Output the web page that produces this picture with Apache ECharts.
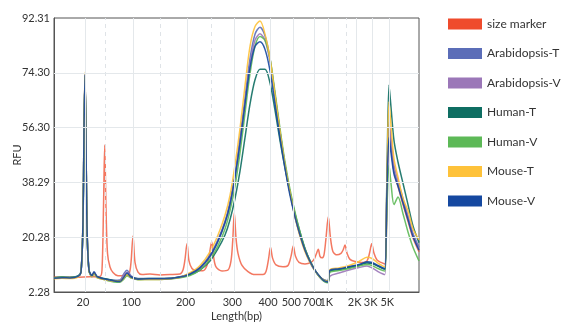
<!DOCTYPE html>
<html>
<head>
<meta charset="utf-8">
<script src="https://cdn.jsdelivr.net/npm/echarts@6/dist/echarts.min.js"></script>
<style>
  html, body { margin: 0; padding: 0; background: #ffffff; }
  #chart { width: 572px; height: 331px; }
</style>
</head>
<body>
<div id="chart"></div>
<script>
// Electropherogram: RFU against scan position, x axis labelled by ladder size (bp).

// Ladder sizes and the scan positions where they run
const bpLabels = ['20', '100', '200', '300', '400', '500', '700', '1K', '2K', '3K', '5K'];
const bpPos = [31, 79.3, 133.5, 180.3, 216, 239.3, 260.3, 274.3, 302.7, 318.7, 335.3];
// Unlabelled ladder fragments (dashed guides)
const bpMinorPos = [51.7, 106, 157.7, 292];

// RFU tick values
const rfuTicks = [2.28, 20.28, 38.29, 56.30, 74.30, 92.31];

const seriesNames = ['size marker', 'Arabidopsis-T', 'Arabidopsis-V', 'Human-T', 'Human-V', 'Mouse-T', 'Mouse-V'];
const seriesColors = ['#EF4B2C', '#5B6DB8', '#9B77B8', '#0E6E62', '#5DB957', '#FEC23A', '#1548A0'];

// Size marker trace
const markerPos = [0, 16, 36, 46, 48, 49.5, 50.7, 52, 53.5, 56, 59, 64, 71, 75, 77, 79, 81, 84, 88, 96,
  106, 116, 126, 129, 131, 133, 135, 138, 142, 149, 153, 155.5, 157.7, 159.5, 162, 168, 174, 177, 178.7, 180.3,
  182, 184, 188, 194, 201, 209, 212, 214.5, 216.5, 218.5, 222, 229, 234, 237, 239.3, 241.5, 245, 251, 257, 260,
  262, 264.3, 266, 268, 270, 272, 274.3, 276.5, 279, 283, 287, 289, 291, 293, 296, 301, 308, 313, 315.5, 317.7,
  320, 323, 327, 331, 333, 335, 337, 340, 344, 349, 354, 359, 365];
const markerRfu = [7.2, 7.1, 7.3, 7.4, 9.5, 30, 50.6, 30, 15, 10.5, 8.7, 7.6, 7.8, 8.2, 12, 20.7, 12, 8.8, 8.0, 8.2,
  7.9, 8.0, 8.2, 9.5, 13, 18.1, 12.5, 10, 9.3, 9.3, 11, 15, 18.8, 14, 10.5, 9.2, 9.5, 12.5, 19, 28.3,
  20, 15, 11, 9, 8, 8, 9, 13, 17, 13.5, 11.2, 10.6, 11, 14, 17.4, 14, 12, 11.5, 12, 13,
  14.5, 16.3, 14, 13.5, 14.5, 20, 27, 20, 15.5, 14.5, 15, 16, 17.7, 15, 13, 12.3, 12, 12.5, 15, 18.1,
  15, 12.8, 12, 11.5, 35, 57, 51, 42, 37, 31, 25.5, 20, 15.5];

// Sample traces share one scan-position grid
const scanPos = [0, 8, 16, 24, 27, 29, 30, 31, 32, 33, 35, 38, 40, 43, 47, 54, 60, 66, 70, 73,
  77, 84, 95, 110, 125, 136, 146, 156, 164, 171, 176, 181, 186, 191, 196, 201, 206, 211, 216, 221,
  226, 231, 236, 241, 246, 251, 256, 261, 266, 270, 274, 276, 285, 295, 305, 313, 318, 324, 329, 331,
  333, 335, 337, 340, 344, 349, 354, 359, 365];

const arabidopsisT = [6.9, 7.1, 7.0, 7.5, 8.9, 26, 56, 73.5, 52, 24, 9.5, 7.7, 8.9, 7.4, 6.9, 6.4, 6.1, 6.2, 8.4, 9.4,
  7.6, 6.7, 6.7, 6.7, 7.2, 8.4, 10.5, 14.5, 19.5, 25.5, 32, 41, 53, 66, 79, 87, 89.3, 86.5, 79, 67,
  55, 44, 35, 27, 21, 16, 12, 9.2, 7.2, 6.3, 6.0, 9.2, 9.8, 10.5, 11.2, 12.0, 11.8, 10.8, 10.0, 9.8,
  38, 56, 50, 42, 38, 32.5, 27, 21.5, 17];

const arabidopsisV = [6.8, 7.0, 6.9, 7.4, 8.7, 25, 55, 73.2, 51, 23, 9.3, 7.5, 8.6, 7.2, 6.8, 6.3, 6.0, 6.1, 8.0, 8.8,
  7.4, 6.6, 6.6, 6.6, 7.1, 8.2, 10, 14, 19, 25, 31, 40, 51.5, 64.5, 77, 85, 87.1, 85, 78, 67,
  55, 44, 35, 27.5, 21.5, 16.5, 12.5, 9.5, 7.0, 5.8, 5.5, 7.5, 8.5, 9.5, 10.3, 10.8, 10.2, 9.0, 8.2, 8.0,
  38, 58.2, 53, 44, 39, 33, 27, 21, 16.5];

const humanT = [7.0, 7.2, 7.1, 7.6, 9.0, 25, 54, 72.8, 50, 23, 9.4, 7.6, 8.4, 7.3, 6.9, 6.5, 6.1, 5.9, 7.0, 7.8,
  7.2, 6.6, 6.7, 6.7, 7.1, 7.9, 9.5, 12.5, 16.5, 21, 26, 33, 42, 53, 64, 72, 75.5, 75.5, 71, 62,
  52, 43, 35, 28, 22, 16.5, 12.5, 9.5, 7.3, 6.2, 5.9, 9.2, 9.6, 10.3, 11.0, 11.8, 11.6, 10.8, 10.0, 9.8,
  42, 70.3, 63, 52, 45, 38, 31, 24, 18.5];

const humanV = [7.0, 7.1, 7.0, 7.4, 8.8, 25, 55, 73.0, 51, 23, 9.2, 7.3, 8.2, 7.0, 6.6, 6.0, 5.6, 5.5, 6.6, 7.6,
  6.9, 6.3, 6.4, 6.5, 6.9, 7.7, 9.5, 13, 17.5, 23, 29, 37, 48, 61, 74, 83, 86.2, 85, 79, 68,
  56, 45, 36, 28.5, 22, 16.5, 12.5, 9.3, 7.0, 5.8, 5.3, 8.8, 9.3, 10.0, 10.8, 11.3, 11.0, 10.0, 9.3, 9.2,
  30, 44, 38, 31, 33.5, 28, 22, 17, 12.5];

const mouseT = [6.6, 6.8, 6.7, 7.2, 8.9, 27, 57, 74.5, 53, 24, 9.4, 7.4, 8.5, 7.1, 6.6, 6.1, 5.8, 5.8, 7.0, 8.0,
  7.0, 6.4, 6.4, 6.5, 7.0, 8.6, 11, 15.5, 21, 27.5, 34, 44, 56, 70, 83, 89.5, 91.3, 87, 79, 67,
  55, 44, 35, 27, 20.5, 15.5, 12, 9.3, 7.2, 6.2, 5.8, 9.6, 10.2, 11.0, 12.3, 13.7, 13.3, 11.8, 10.8, 10.5,
  40, 64.8, 57, 46, 40, 33, 29, 23, 19.5];

const mouseV = [6.8, 7.0, 6.9, 7.4, 8.8, 26, 56, 73.8, 52, 24, 9.5, 7.6, 8.8, 7.3, 6.8, 6.3, 5.9, 5.7, 7.2, 8.5,
  7.2, 6.5, 6.6, 6.6, 7.1, 8.2, 10.2, 14, 19, 25, 31, 40, 51, 64, 76, 83, 84.5, 82, 75, 64,
  53, 43, 34, 27, 21, 16, 12.3, 9.4, 7.3, 6.0, 5.6, 9.4, 9.9, 10.6, 11.3, 12.2, 12.0, 11.0, 10.2, 10.0,
  36, 53, 48, 41, 37, 31.5, 26, 20.5, 16];

const sampleValues = [arabidopsisT, arabidopsisV, humanT, humanV, mouseT, mouseV];

const FONT = 'Lato';
const gridColor = '#e4e8eb';

function pairs(xs, ys) {
  return xs.map((x, i) => [x, ys[i]]);
}

function trace(name, color, data, opacity) {
  return {
    type: 'line',
    name: name,
    data: data,
    symbol: 'none',
    showSymbol: false,
    smooth: 0.3,
    animation: false,
    silent: true,
    itemStyle: { color: color },
    lineStyle: { color: color, width: 1.5, opacity: opacity }
  };
}

// Guide lines drawn beneath the traces
const guideLines = [];
bpPos.forEach(v => guideLines.push({ xAxis: v, lineStyle: { type: 'solid', color: gridColor } }));
bpMinorPos.forEach(v => guideLines.push({ xAxis: v, lineStyle: { type: [4, 4], color: '#dfe3e7' } }));
rfuTicks.slice(1, -1).forEach(v => guideLines.push({ yAxis: v, lineStyle: { type: 'solid', color: gridColor } }));

const series = [{
  type: 'line',
  name: '__guides',
  data: [[0, rfuTicks[0]]],
  symbol: 'none',
  silent: true,
  animation: false,
  lineStyle: { opacity: 0 },
  z: 1,
  markLine: {
    silent: true,
    symbol: ['none', 'none'],
    label: { show: false },
    animation: false,
    lineStyle: { width: 1 },
    data: guideLines
  }
}];

series.push(Object.assign(trace(seriesNames[0], seriesColors[0], pairs(markerPos, markerRfu), 0.75), { z: 2 }));
sampleValues.forEach((vals, i) => {
  series.push(Object.assign(trace(seriesNames[i + 1], seriesColors[i + 1], pairs(scanPos, vals), 0.9), { z: 3 }));
});

const chart = echarts.init(document.getElementById('chart'), null, { renderer: 'canvas' });
chart.setOption({
  animation: false,
  backgroundColor: '#ffffff',
  textStyle: { fontFamily: FONT },
  grid: {
    left: 54, right: 153, top: 18, bottom: 39,
    show: true, borderColor: '#555', borderWidth: 1,
    containLabel: false,
    outerBoundsMode: 'none'
  },
  legend: {
    orient: 'vertical',
    left: 448,
    top: 18,
    padding: 0,
    itemWidth: 34,
    itemHeight: 11,
    itemGap: 17.5,
    icon: 'rect',
    data: seriesNames,
    textStyle: { fontFamily: FONT, fontSize: 12, color: '#333' }
  },
  xAxis: {
    type: 'value',
    min: 0,
    max: 365,
    name: 'Length(bp)',
    nameLocation: 'middle',
    nameGap: 19,
    nameMoveOverlap: false,
    nameTextStyle: { fontFamily: FONT, fontSize: 11, color: '#333', verticalAlign: 'top' },
    axisLine: { show: true, lineStyle: { color: '#555' } },
    axisTick: { show: false },
    splitLine: { show: false },
    axisLabel: {
      customValues: bpPos,
      fontFamily: FONT,
      fontSize: 11,
      color: '#333',
      margin: 5,
      padding: [0, 4, 0, 0],
      formatter: v => {
        const i = bpPos.findIndex(p => Math.abs(p - v) < 0.01);
        return i >= 0 ? bpLabels[i] : '';
      }
    }
  },
  yAxis: {
    type: 'value',
    min: rfuTicks[0],
    max: rfuTicks[rfuTicks.length - 1],
    name: 'RFU',
    nameLocation: 'middle',
    nameGap: 31,
    nameMoveOverlap: false,
    nameTextStyle: { fontFamily: FONT, fontSize: 11, color: '#333' },
    axisLine: { show: true, lineStyle: { color: '#555' } },
    axisTick: { show: false },
    splitLine: { show: false },
    axisLabel: {
      customValues: rfuTicks,
      fontFamily: FONT,
      fontSize: 11,
      color: '#333',
      margin: 4,
      formatter: v => v.toFixed(2)
    }
  },
  series: series
});
</script>
</body>
</html>
